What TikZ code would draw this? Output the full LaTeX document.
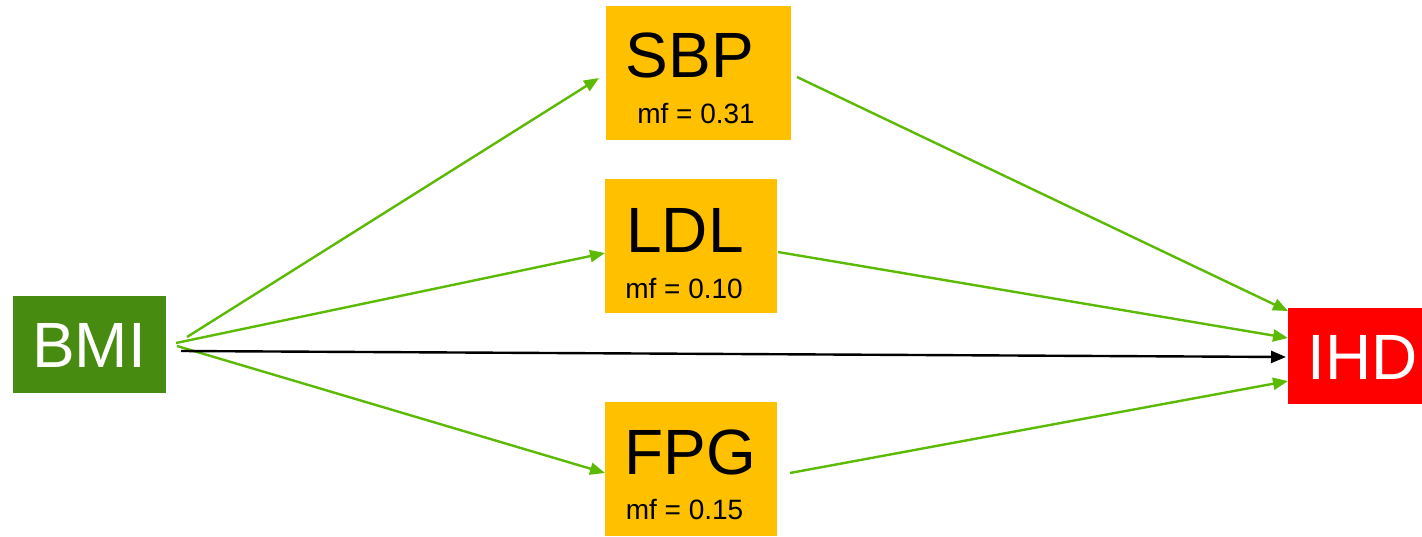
\documentclass[tikz,border=0pt]{standalone}
\usepackage{fontspec}
\setmainfont{Liberation Sans}
\usetikzlibrary{arrows.meta}
\definecolor{boxgreen}{RGB}{71,139,16}
\definecolor{amber}{RGB}{255,192,0}
\definecolor{ihdred}{RGB}{255,0,0}
\definecolor{arrowgreen}{RGB}{92,186,4}
\tikzset{
  box/.style={draw=none, inner sep=0pt, outer sep=0pt},
  bigtext/.style={inner sep=0pt, anchor=base, font=\fontsize{64}{70}\selectfont},
  mftext/.style={inner sep=0pt, anchor=base, font=\fontsize{28}{32}\selectfont},
  garrow/.style={draw=arrowgreen, line width=2.4pt, -{Triangle[length=15pt,width=12pt]}},
  karrow/.style={draw=black, line width=2.4pt, -{Triangle[length=15pt,width=12pt]}}
}
\begin{document}
\begin{tikzpicture}[x=1pt,y=-1pt]
\useasboundingbox (0,0) rectangle (1422,536);
% boxes
\node[box, fill=boxgreen, minimum width=153pt, minimum height=97pt] (bmi) at (89.5,344.5) {};
\node[box, fill=amber, minimum width=185pt, minimum height=134pt] (sbp) at (698.5,73) {};
\node[box, fill=amber, minimum width=172pt, minimum height=134pt] (ldl) at (691,246) {};
\node[box, fill=amber, minimum width=172pt, minimum height=134pt] (fpg) at (691,469) {};
\node[box, fill=ihdred, minimum width=134pt, minimum height=96pt] (ihd) at (1355,356) {};
% texts
\node[bigtext, text=white] (bmit) at (89,367) {BMI};
\node[bigtext, text=white] (ihdt) at (1363,379) {IHD};
\node[bigtext] (sbpt) at (690,77) {SBP};
\node[mftext] (sbpmf) at (696,123) {mf = 0.31};
\node[bigtext] (ldlt) at (685,252) {LDL};
\node[mftext] (ldlmf) at (684,298) {mf = 0.10};
\node[bigtext] (fpgt) at (690,474) {FPG};
\node[mftext] (fpgmf) at (684.5,519) {mf = 0.15};
% connector end points
\coordinate (bmi-s) at (187,337);
\coordinate (bmi-l) at (176,343);
\coordinate (bmi-f) at (177,346);
\coordinate (bmi-i) at (181,351);
\coordinate (sbp-in) at (599,78);
\coordinate (ldl-in) at (605,253);
\coordinate (fpg-in) at (605,473);
\coordinate (sbp-out) at (797,77);
\coordinate (ldl-out) at (778,252);
\coordinate (fpg-out) at (790,473);
\coordinate (ihd-s) at (1288,311);
\coordinate (ihd-l) at (1288,338);
\coordinate (ihd-b) at (1286,357);
\coordinate (ihd-f) at (1288,381);
% connectors
\draw[garrow] (bmi-s) -- (sbp-in);
\draw[garrow] (bmi-l) -- (ldl-in);
\draw[garrow] (bmi-f) -- (fpg-in);
\draw[karrow] (bmi-i) -- (ihd-b);
\draw[garrow] (sbp-out) -- (ihd-s);
\draw[garrow] (ldl-out) -- (ihd-l);
\draw[garrow] (fpg-out) -- (ihd-f);
\end{tikzpicture}
\end{document}
